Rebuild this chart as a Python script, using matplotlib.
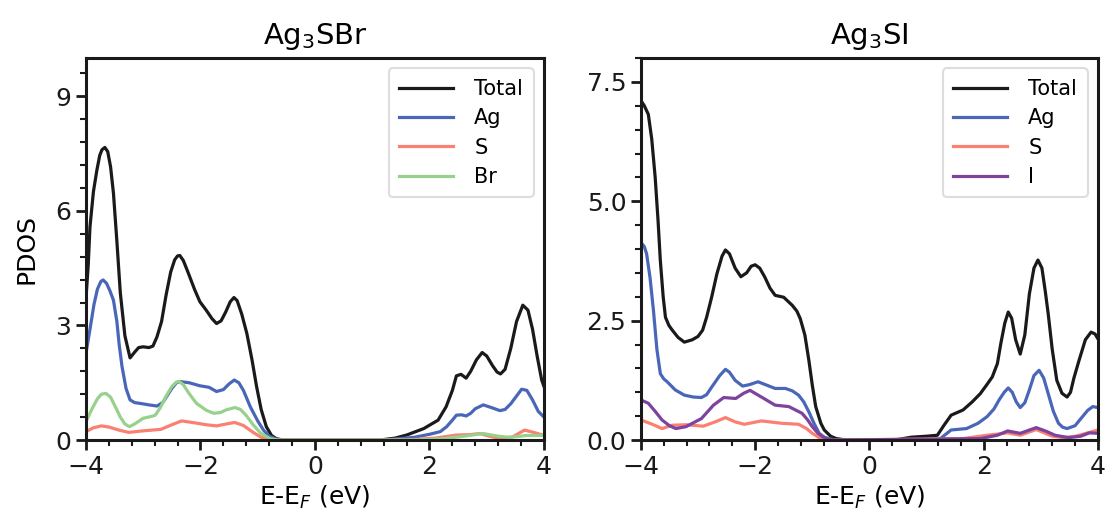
import numpy as np
import matplotlib
matplotlib.use("Agg")
import matplotlib.pyplot as plt
from matplotlib.ticker import MultipleLocator, AutoMinorLocator, FormatStrFormatter

# ---- Ag3SBr ----
sbr_tot_e = [-4.0, -3.96, -3.93, -3.87, -3.81, -3.76, -3.72, -3.67, -3.62, -3.57, -3.52, -3.46,
             -3.4, -3.32, -3.23, -3.15, -3.08, -3.0, -2.9, -2.83, -2.76, -2.68, -2.6, -2.52,
             -2.45, -2.4, -2.36, -2.3, -2.22, -2.1, -2.01, -1.9, -1.8, -1.72, -1.64, -1.56,
             -1.48, -1.415, -1.36, -1.28, -1.19, -1.1, -1.02, -0.94, -0.85, -0.76, -0.67, -0.55,
             -0.4, 1.14, 1.4, 1.6, 1.9, 2.15, 2.29, 2.4, 2.47, 2.55, 2.64, 2.72, 2.82, 2.92, 3.0,
             3.1, 3.18, 3.24, 3.32, 3.42, 3.52, 3.63, 3.72, 3.8, 3.88, 3.96, 4.0]
sbr_tot = [3.7, 4.6, 5.58, 6.5, 7.06, 7.45, 7.6, 7.66, 7.55, 7.15, 6.46, 5.2,
           3.85, 2.73, 2.15, 2.3, 2.42, 2.44, 2.42, 2.46, 2.7, 3.1, 3.8, 4.4,
           4.72, 4.82, 4.83, 4.7, 4.4, 3.93, 3.62, 3.4, 3.18, 3.05, 3.12, 3.35,
           3.62, 3.73, 3.65, 3.3, 2.79, 2.1, 1.40, 0.8, 0.35, 0.12, 0.03, 0.0,
           0.0, 0.0, 0.05, 0.13, 0.3, 0.52, 0.87, 1.3, 1.68, 1.72, 1.62, 1.8, 2.1, 2.29, 2.2,
           1.95, 1.78, 1.73, 1.85, 2.4, 3.1, 3.53, 3.4, 2.9, 2.2, 1.57, 1.4]

sbr_ag_e = [-4.0, -3.93, -3.86, -3.8, -3.74, -3.7, -3.64, -3.58, -3.52, -3.46, -3.42, -3.37, -3.3,
            -3.23, -3.15, -3.06, -2.9, -2.76, -2.66, -2.59, -2.5, -2.42, -2.36, -2.2, -2.01,
            -1.85, -1.72, -1.6, -1.5, -1.41, -1.33, -1.25, -1.13, -1.0, -0.9, -0.8, -0.67, -0.5,
            1.2, 1.73, 2.0, 2.19, 2.3, 2.4, 2.47, 2.56, 2.64, 2.72, 2.8, 2.94, 3.08, 3.23, 3.32,
            3.42, 3.52, 3.61, 3.7, 3.8, 3.9, 4.0]
sbr_ag = [2.27, 2.9, 3.55, 3.95, 4.15, 4.19, 4.1, 3.9, 3.66, 3.1, 2.5, 1.92, 1.35,
          1.05, 0.98, 0.96, 0.92, 0.89, 0.98, 1.14, 1.35, 1.5, 1.53, 1.5, 1.42,
          1.38, 1.27, 1.32, 1.47, 1.57, 1.5, 1.3, 0.87, 0.5, 0.26, 0.1, 0.02, 0.0,
          0.0, 0.07, 0.15, 0.22, 0.35, 0.52, 0.65, 0.66, 0.63, 0.7, 0.82, 0.92, 0.85, 0.77, 0.8,
          0.95, 1.15, 1.33, 1.3, 1.05, 0.75, 0.6]

sbr_s_e = [-4.0, -3.87, -3.73, -3.6, -3.4, -3.25, -3.0, -2.69, -2.5, -2.33, -2.1, -1.9, -1.72, -1.55,
           -1.4, -1.25, -1.08, -0.95, -0.85, -0.7, 1.6, 2.1, 2.47, 2.7, 2.88, 3.05, 3.23, 3.45,
           3.66, 3.82, 4.0]
sbr_s = [0.22, 0.32, 0.37, 0.34, 0.25, 0.2, 0.24, 0.28, 0.4, 0.50, 0.45, 0.4, 0.37, 0.42,
         0.46, 0.38, 0.2, 0.08, 0.02, 0.0, 0.0, 0.05, 0.13, 0.14, 0.17, 0.1, 0.04, 0.08,
         0.26, 0.2, 0.12]

sbr_br_e = [-4.0, -3.9, -3.8, -3.73, -3.65, -3.57, -3.48, -3.4, -3.32, -3.24, -3.15, -3.0, -2.85,
            -2.79, -2.7, -2.6, -2.5, -2.42, -2.37, -2.3, -2.2, -2.07, -1.9, -1.77, -1.65, -1.55,
            -1.4, -1.3, -1.2, -1.08, -0.95, -0.79, -0.65, 1.8, 2.29, 2.6, 2.94, 3.2, 3.4, 3.7, 4.0]
sbr_br = [0.48, 0.8, 1.08, 1.2, 1.22, 1.12, 0.85, 0.6, 0.42, 0.35, 0.42, 0.57, 0.62,
          0.65, 0.85, 1.15, 1.4, 1.52, 1.53, 1.45, 1.22, 0.96, 0.78, 0.70, 0.72, 0.79,
          0.85, 0.8, 0.64, 0.40, 0.18, 0.04, 0.0, 0.0,
          0.04, 0.1, 0.17, 0.1, 0.07, 0.12, 0.12]

# ---- Ag3SI ----
si_tot_e = [-4.0, -3.94, -3.87, -3.81, -3.75, -3.7, -3.66, -3.61, -3.57, -3.51, -3.45, -3.35,
            -3.24, -3.1, -3.0, -2.92, -2.85, -2.76, -2.67, -2.58, -2.52, -2.45, -2.35, -2.25,
            -2.15, -2.07, -2.0, -1.92, -1.83, -1.74, -1.65, -1.5, -1.35, -1.27, -1.21, -1.13,
            -1.06, -1.0, -0.94, -0.85, -0.79, -0.68, -0.58, -0.4, 0.44, 0.74, 1.0, 1.19, 1.3,
            1.43, 1.64, 1.8, 1.94, 2.05, 2.15, 2.24, 2.3, 2.37, 2.43, 2.49, 2.56, 2.64, 2.72,
            2.8, 2.88, 2.95, 3.02, 3.08, 3.13, 3.2, 3.28, 3.37, 3.46, 3.52, 3.58, 3.67, 3.78,
            3.88, 3.95, 4.0]
si_tot = [7.11, 7.0, 6.82, 6.3, 5.50, 4.6, 3.76, 3.0, 2.57, 2.4, 2.30, 2.15,
          2.05, 2.1, 2.17, 2.3, 2.57, 3.0, 3.48, 3.85, 3.98, 3.9, 3.6, 3.42,
          3.5, 3.64, 3.67, 3.6, 3.41, 3.18, 3.03, 2.99, 2.82, 2.7, 2.54, 2.2,
          1.67, 1.15, 0.70, 0.35, 0.21, 0.08, 0.03, 0.0, 0.0, 0.06, 0.08, 0.10, 0.3,
          0.52, 0.63, 0.8, 0.97, 1.15, 1.32, 1.6, 2.02, 2.45, 2.68, 2.55, 2.1, 1.80, 2.2,
          3.06, 3.6, 3.77, 3.6, 3.1, 2.64, 1.9, 1.25, 0.98, 0.90, 1.0, 1.3, 1.67, 2.1,
          2.26, 2.22, 2.12]

si_ag_e = [-4.0, -3.94, -3.9, -3.84, -3.78, -3.72, -3.66, -3.6, -3.54, -3.4, -3.24, -3.08, -2.94,
           -2.85, -2.76, -2.62, -2.52, -2.45, -2.35, -2.22, -2.1, -1.95, -1.8, -1.65, -1.47,
           -1.35, -1.24, -1.15, -1.06, -0.97, -0.88, -0.78, -0.64, -0.4, 1.22, 1.43, 1.70, 1.9,
           2.06, 2.18, 2.27, 2.36, 2.43, 2.5, 2.57, 2.64, 2.72, 2.8, 2.88, 2.97, 3.05, 3.13,
           3.22, 3.31, 3.38, 3.46, 3.6, 3.73, 3.82, 3.91, 4.0]
si_ag = [4.14, 4.05, 3.9, 3.4, 2.71, 1.9, 1.39, 1.28, 1.22, 1.05, 0.94, 0.9, 0.89,
         0.95, 1.11, 1.35, 1.48, 1.42, 1.25, 1.13, 1.16, 1.22, 1.15, 1.08, 1.08,
         1.03, 0.94, 0.8, 0.59, 0.35, 0.14, 0.05, 0.01, 0.0, 0.01, 0.21, 0.24, 0.35,
         0.49, 0.65, 0.84, 1.0, 1.09, 1.0, 0.8, 0.68, 0.78, 1.05, 1.35, 1.46, 1.3, 0.97,
         0.6, 0.35, 0.27, 0.24, 0.3, 0.49, 0.62, 0.70, 0.68]

si_s_e = [-4.0, -3.8, -3.63, -3.45, -3.2, -2.91, -2.7, -2.52, -2.35, -2.19, -1.89, -1.53, -1.24,
          -1.1, -1.0, -0.88, -0.77, -0.6, 1.64, 2.06, 2.42, 2.64, 2.92, 3.2, 3.4, 3.61, 3.85, 4.0]
si_s = [0.42, 0.33, 0.24, 0.31, 0.32, 0.29, 0.38, 0.47, 0.38, 0.33, 0.40, 0.35, 0.33,
        0.24, 0.14, 0.05, 0.01, 0.0, 0.03, 0.10, 0.15, 0.10, 0.22, 0.08, 0.05, 0.08, 0.16, 0.21]

si_i_e = [-4.0, -3.87, -3.75, -3.63, -3.5, -3.39, -3.21, -2.94, -2.73, -2.55, -2.34, -2.2, -2.09,
          -1.89, -1.65, -1.41, -1.18, -1.08, -1.0, -0.9, -0.82, -0.7, -0.5, 1.94, 2.24, 2.42,
          2.64, 2.92, 3.1, 3.25, 3.49, 3.7, 3.85, 4.0]
si_i = [0.84, 0.77, 0.6, 0.42, 0.3, 0.24, 0.28, 0.45, 0.73, 0.89, 0.87, 0.98, 1.04,
        0.90, 0.73, 0.70, 0.56, 0.42, 0.28, 0.14, 0.07, 0.01, 0.0, 0.03, 0.10, 0.19,
        0.14, 0.26, 0.18, 0.10, 0.05, 0.08, 0.15, 0.14]

c_tot = "#1a1a1a"
c_ag = "#4a66b8"
c_s = "#fa8072"
c_br = "#98d18b"
c_i = "#7d439d"

plt.rcParams["font.family"] = "DejaVu Sans"
plt.rcParams["lines.solid_joinstyle"] = "round"

fig = plt.figure(figsize=(11.05, 5.2), dpi=100)
ax1 = fig.add_axes([0.0778, 0.1538, 0.4145, 0.7346])
ax2 = fig.add_axes([0.5800, 0.1538, 0.4136, 0.7346])


def style_axis(ax, ymax, ymajor):
    ax.set_xlim(-4, 4)
    ax.set_ylim(0, ymax)
    ax.xaxis.set_major_locator(MultipleLocator(2))
    ax.xaxis.set_minor_locator(AutoMinorLocator(5))
    ax.yaxis.set_major_locator(MultipleLocator(ymajor))
    ax.yaxis.set_minor_locator(AutoMinorLocator(5))
    for sp in ax.spines.values():
        sp.set_linewidth(2.2)
        sp.set_color("#1a1a1a")
    ax.tick_params(which="major", length=7, width=2, labelsize=18, direction="out", colors="#1a1a1a")
    ax.tick_params(which="minor", length=4, width=1.5, direction="out", colors="#1a1a1a")
    ax.set_xlabel("E-E$_F$ (eV)", fontsize=18)
    leg = ax.legend(loc="upper right", fontsize=15, handlelength=2.6, borderpad=0.5,
                    labelspacing=0.45, handletextpad=1.0, framealpha=1.0, fancybox=True)
    leg.get_frame().set_edgecolor("#dddddd")
    leg.get_frame().set_linewidth(1.5)


ax1.plot(sbr_tot_e, sbr_tot, color=c_tot, lw=2.3, label="Total")
ax1.plot(sbr_ag_e, sbr_ag, color=c_ag, lw=2.3, label="Ag")
ax1.plot(sbr_s_e, sbr_s, color=c_s, lw=2.3, label="S")
ax1.plot(sbr_br_e, sbr_br, color=c_br, lw=2.3, label="Br")
style_axis(ax1, 10, 3)
ax1.set_ylabel("PDOS", fontsize=18, labelpad=12)
ax1.set_title("Ag$_3$SBr", fontsize=21, pad=10)

ax2.plot(si_tot_e, si_tot, color=c_tot, lw=2.3, label="Total")
ax2.plot(si_ag_e, si_ag, color=c_ag, lw=2.3, label="Ag")
ax2.plot(si_s_e, si_s, color=c_s, lw=2.3, label="S")
ax2.plot(si_i_e, si_i, color=c_i, lw=2.3, label="I")
style_axis(ax2, 8, 2.5)
ax2.yaxis.set_major_formatter(FormatStrFormatter("%.1f"))
ax2.set_title("Ag$_3$SI", fontsize=21, pad=10)

fig.savefig("out.png", dpi=100)
